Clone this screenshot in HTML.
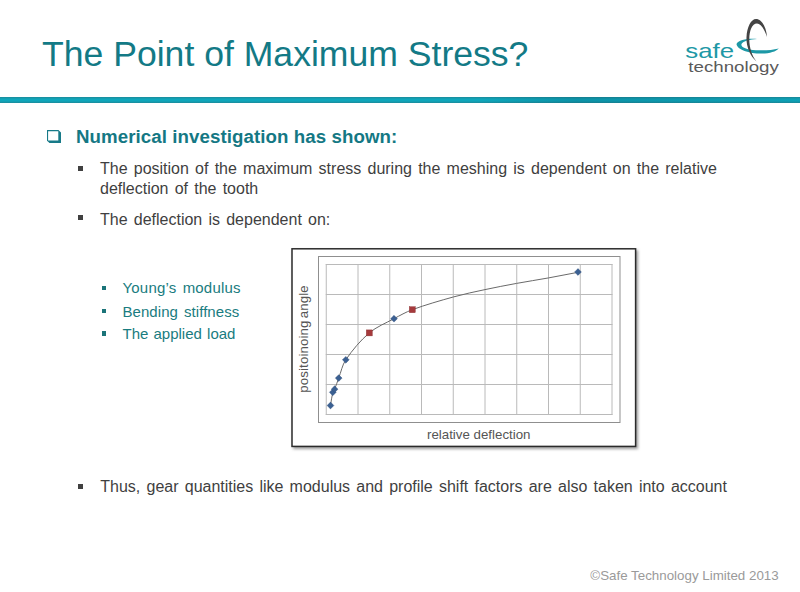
<!DOCTYPE html>
<html><head><meta charset="utf-8">
<style>
html,body{margin:0;padding:0;background:#fff;}
body{width:800px;height:592px;position:relative;overflow:hidden;font-family:"Liberation Sans",sans-serif;}
.a{position:absolute;white-space:nowrap;}
#title{left:42px;top:33.7px;font-size:35.6px;line-height:40px;color:#137a86;}
#bar{position:absolute;left:0;top:97px;width:800px;height:6px;background:linear-gradient(#1c8a9a,#0ea6bb 35%,#0ea6bb 65%,#1c8a9a);}
#bar2{position:absolute;left:0;top:97px;width:800px;height:6px;background:linear-gradient(90deg,rgba(0,60,80,0) 0%,rgba(0,60,80,0) 60%,rgba(0,60,80,0.18) 72%,rgba(0,60,80,0.12) 85%,rgba(0,60,80,0.05) 100%);}
#h1{left:76px;top:124.7px;font-size:18.7px;letter-spacing:0.075px;line-height:24px;color:#147884;font-weight:bold;}
.body{font-size:16px;line-height:20px;color:#3f3f3f;word-spacing:1.75px;}
.sq{position:absolute;width:5px;height:5px;background:#404040;}
.sub{font-size:15px;line-height:20px;color:#197c80;word-spacing:1.8px;}
.sqt{position:absolute;width:4.7px;height:4.5px;background:#1b7479;}
#foot{left:590.3px;top:566.6px;font-size:13.35px;line-height:18px;color:#9a9a9a;}
</style></head><body>
<div id="title" class="a">The Point of Maximum Stress?</div>
<div id="bar"></div><div id="bar2"></div>
<svg class="a" style="left:0;top:0" width="800" height="100" viewBox="0 0 800 100">
  <text x="685.3" y="57.75" font-family="Liberation Sans" font-size="21" fill="#1d98a6" textLength="48.8" lengthAdjust="spacingAndGlyphs">safe</text>
  <text x="688.3" y="72.3" font-family="Liberation Sans" font-size="14.6" fill="#5a5a5a" textLength="90.5" lengthAdjust="spacingAndGlyphs">technology</text>
  <path fill="#1d98a6" d="M757 39 C748 38.3,738 40,736.5 44 C737 50,750 53.8,762 53.6 C770 53.4,776 51.5,778.8 48.5 C772 50.2,764 50.6,756 50.2 C746 49.5,740.5 47,741.5 44 C743 41,750 39.5,757 39 Z"/>
  <path fill="#444" d="M756.5 61.5 C750 56,746 46,746.5 37 C747 27,751 19,756 19 C762 19,766.5 28,767 37 C765 30,761 23.5,757 23.5 C752 23.5,749.3 31,749.3 39 C749.3 48,752 56,756.5 61.5 Z"/>
</svg>
<!-- checkbox -->
<svg class="a" style="left:0;top:0" width="80" height="150"><path fill="#177a88" fill-rule="evenodd" d="M47,130 L58.5,130 L61,132.5 L61,143 L49.5,143 L47,140.8 Z M48.1,131.2 L58.3,131.2 L58.3,140.4 L48.1,140.4 Z"/></svg>
<div id="h1" class="a">Numerical investigation has shown:</div>

<div class="sq" style="left:78px;top:166px"></div>
<div class="a body" style="left:100px;top:159.3px">The position of the maximum stress during the meshing is dependent on the relative</div>
<div class="a body" style="left:100px;top:179.2px">deflection of the tooth</div>
<div class="sq" style="left:78px;top:215px"></div>
<div class="a body" style="left:100px;top:210.1px">The deflection is dependent on:</div>

<div class="sqt" style="left:101.6px;top:285.7px"></div>
<div class="a sub" style="left:122.5px;top:278px;letter-spacing:0.2px">Young’s modulus</div>
<div class="sqt" style="left:101.6px;top:308.8px"></div>
<div class="a sub" style="left:122.5px;top:301.6px;letter-spacing:0.06px">Bending stiffness</div>
<div class="sqt" style="left:101.6px;top:331.3px"></div>
<div class="a sub" style="left:122.5px;top:324.1px;word-spacing:1px">The applied load</div>

<div class="sq" style="left:78px;top:484px"></div>
<div class="a body" style="left:100.3px;top:476.9px">Thus, gear quantities like modulus and profile shift factors are also taken into account</div>

<svg class="a" style="left:0;top:0" width="800" height="592" viewBox="0 0 800 592">
<defs><filter id="sh" x="-10%" y="-10%" width="120%" height="120%"><feGaussianBlur stdDeviation="1.5"/></filter></defs>
<rect x="293" y="250" width="345" height="199" fill="#9a9a9a" filter="url(#sh)"/>
<rect x="292" y="248.8" width="343.6" height="197.6" fill="#fff" stroke="#2b2b2b" stroke-width="1.5"/>
<rect x="318.5" y="256.5" width="301.5" height="166" fill="none" stroke="#8f8f8f" stroke-width="1"/>
<g stroke="#bababa" stroke-width="1" fill="none"><line x1="326.25" y1="264" x2="326.25" y2="415"/><line x1="358.0" y1="264" x2="358.0" y2="415"/><line x1="389.75" y1="264" x2="389.75" y2="415"/><line x1="421.5" y1="264" x2="421.5" y2="415"/><line x1="453.25" y1="264" x2="453.25" y2="415"/><line x1="485.0" y1="264" x2="485.0" y2="415"/><line x1="516.75" y1="264" x2="516.75" y2="415"/><line x1="548.5" y1="264" x2="548.5" y2="415"/><line x1="580.25" y1="264" x2="580.25" y2="415"/><line x1="612.0" y1="264" x2="612.0" y2="415"/><line x1="325.75" y1="264.5" x2="612.5" y2="264.5"/><line x1="325.75" y1="294.5" x2="612.5" y2="294.5"/><line x1="325.75" y1="324.5" x2="612.5" y2="324.5"/><line x1="325.75" y1="354.5" x2="612.5" y2="354.5"/><line x1="325.75" y1="384.5" x2="612.5" y2="384.5"/><line x1="325.75" y1="414.5" x2="612.5" y2="414.5"/></g>
<path d="M330.5,405.5 C331.27,401.10 331.72,396.59 332.8,392.3 C333.09,391.15 334.14,390.30 334.6,389.2 C336.11,385.57 337.30,381.79 338.7,378.1 C341.03,371.99 342.18,365.14 345.8,359.8 C352.38,350.08 360.36,340.52 369.3,332.9 C376.43,326.82 385.65,323.21 394.0,318.7 C399.98,315.47 405.93,312.03 412.3,309.7 C425.80,304.76 439.72,300.74 453.6,296.9 C463.95,294.04 474.49,291.85 485.0,289.6 C495.49,287.35 506.04,285.34 516.6,283.4 C527.24,281.44 537.95,279.83 548.6,277.9 C558.42,276.13 568.20,274.17 578.0,272.3" fill="none" stroke="#6a6a6a" stroke-width="1"/>
<g fill="#3b6092" stroke="#2f4f7c" stroke-width="0.4"><path d="M330.5,402.1 L333.9,405.5 L330.5,408.9 L327.1,405.5 Z"/><path d="M332.8,388.90000000000003 L336.2,392.3 L332.8,395.7 L329.40000000000003,392.3 Z"/><path d="M334.6,385.8 L338.0,389.2 L334.6,392.59999999999997 L331.20000000000005,389.2 Z"/><path d="M338.7,374.70000000000005 L342.09999999999997,378.1 L338.7,381.5 L335.3,378.1 Z"/><path d="M345.8,356.40000000000003 L349.2,359.8 L345.8,363.2 L342.40000000000003,359.8 Z"/><path d="M394,315.3 L397.4,318.7 L394,322.09999999999997 L390.6,318.7 Z"/><path d="M578,268.6 L581.4,272 L578,275.4 L574.6,272 Z"/></g>
<g fill="#a53a3c" stroke="#8a2e30" stroke-width="0.4"><rect x="366.3" y="329.9" width="6" height="6"/><rect x="409.3" y="306.7" width="6" height="6"/></g>
<text x="427" y="438.7" font-family="Liberation Sans" font-size="13.3" fill="#555">relative deflection</text>
<text transform="translate(308.3,392.8) rotate(-90)" font-family="Liberation Sans" font-size="13.3" fill="#555" letter-spacing="0.12" word-spacing="-1.8">positoinoing angle</text>
</svg>

<div id="foot" class="a">©Safe Technology Limited 2013</div>
</body></html>
